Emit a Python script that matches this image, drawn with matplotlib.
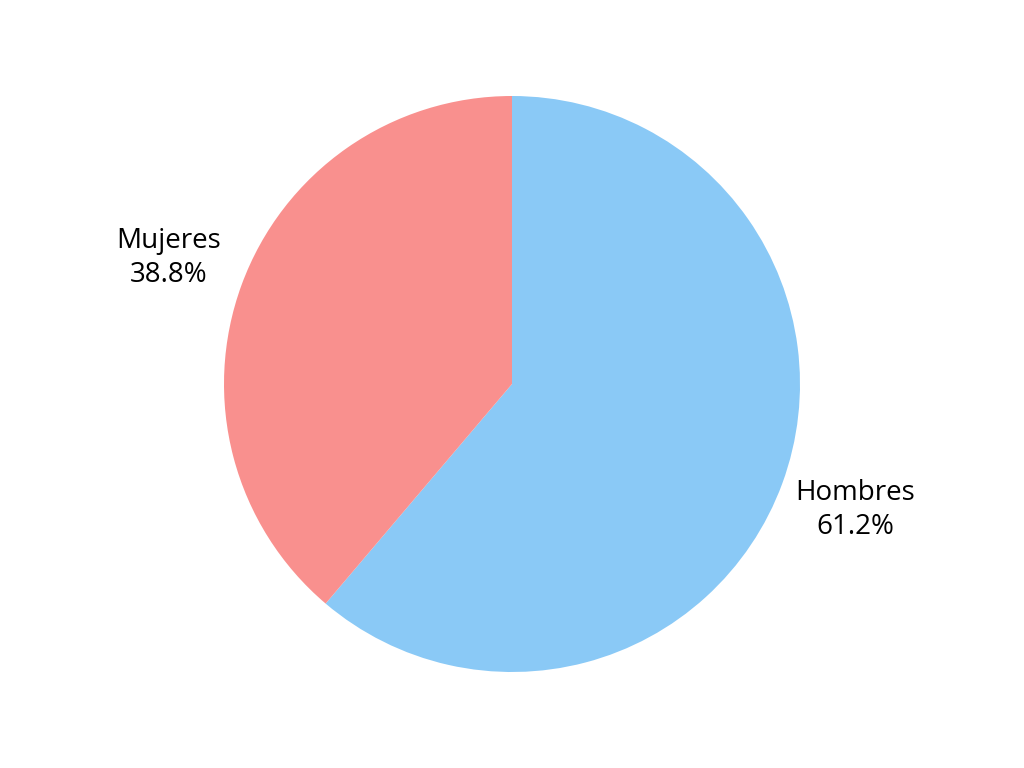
import matplotlib
matplotlib.use("Agg")
import matplotlib.pyplot as plt

plt.rcParams['font.family'] = ['Open Sans', 'DejaVu Sans']

labels = ['Hombres', 'Mujeres']
shares = [61.2, 38.8]
colors = ['#8AC9F6', '#F9908E']

fig = plt.figure(figsize=(10.24, 7.68), dpi=100)
ax = fig.add_axes([0, 0, 1, 1])

text_labels = [f'{name}\n{val:.1f}%' for name, val in zip(labels, shares)]
wedges, texts = ax.pie(shares, labels=text_labels, colors=colors,
                       startangle=90, counterclock=False,
                       labeldistance=1.27, textprops={'fontsize': 20})
for t in texts:
    t.set_horizontalalignment('center')
    t.set_verticalalignment('center')
    t.set_linespacing(1.3)

# pie radius ~288 px in a 768 px tall figure
lim = 384 / 288
ax.set_xlim(-lim * 1024 / 768, lim * 1024 / 768)
ax.set_ylim(-lim, lim)
ax.set_aspect('equal')
ax.axis('off')

fig.savefig('out.png', dpi=100)
